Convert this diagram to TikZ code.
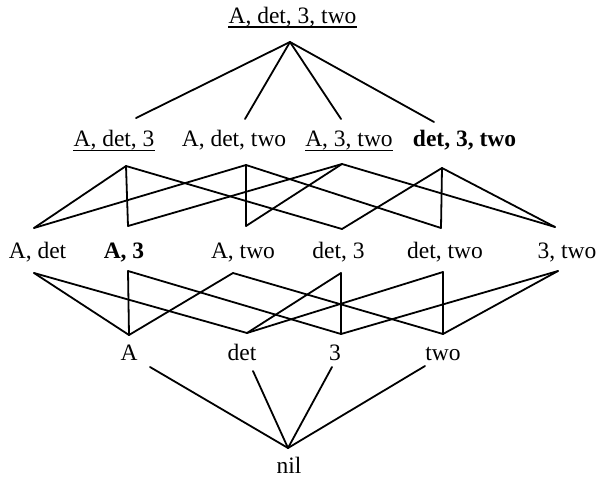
\documentclass[tikz,border=0pt]{standalone}
\usepackage{fontspec}
\setmainfont{Liberation Serif}
\begin{document}
\begin{tikzpicture}[x=1pt,y=-1pt,
  lbl/.style={anchor=base, inner sep=0pt, font=\fontsize{23.5}{28}\selectfont},
  edge/.style={line width=1.8pt, line cap=round, line join=round},
  ul/.style={line width=1.7pt}]
\useasboundingbox (0,0) rectangle (599,479);
% level 1
\node[lbl] (top) at (292.5,23) {A, det, 3, two};
\draw[ul] ([yshift=-4pt]top.base west) -- ([yshift=-4pt]top.base east);
\coordinate (top-b) at (290,42);
% level 2
\node[lbl] (adt3) at (114,146) {A, det, 3};
\node[lbl] (adtw) at (234,146) {A, det, two};
\node[lbl] (a3tw) at (349,146) {A, 3, two};
\node[lbl] (d3tw) at (464.5,146) {\textbf{det, 3, two}};
\draw[ul] ([yshift=-4.5pt]adt3.base west) -- ([yshift=-4.5pt]adt3.base east);
\draw[ul] ([yshift=-4.5pt]a3tw.base west) -- ([yshift=-4.5pt]a3tw.base east);
\coordinate (adt3-t) at (136,118);
\coordinate (adtw-t) at (245,119);
\coordinate (a3tw-t) at (341,119);
\coordinate (d3tw-t) at (434,122);
\coordinate (adt3-b) at (126,166);
\coordinate (adtw-b) at (246,165);
\coordinate (a3tw-b) at (342,164);
\coordinate (d3tw-b) at (442,168);
% level 3
\node[lbl] (ad) at (37.5,258) {A, det};
\node[lbl] (a3) at (124,258) {\textbf{A, 3}};
\node[lbl] (aw) at (243,258) {A, two};
\node[lbl] (d3) at (338.5,258) {det, 3};
\node[lbl] (dw) at (445,258) {det, two};
\node[lbl] (w3) at (567,258) {3, two};
\coordinate (ad-t) at (34,228);
\coordinate (a3-t) at (128,226);
\coordinate (aw-t) at (246,226);
\coordinate (d3-t) at (342,229);
\coordinate (dw-t) at (441,228);
\coordinate (w3-t) at (555,227);
\coordinate (ad-b) at (34,273);
\coordinate (a3-b) at (128,271);
\coordinate (aw-b) at (233,273);
\coordinate (d3-b) at (341,273);
\coordinate (dw-b) at (443,272);
\coordinate (w3-b) at (558,271);
% level 4
\node[lbl] (a) at (129,360) {A};
\node[lbl] (d) at (242,360) {det};
\node[lbl] (th) at (335,360) {3};
\node[lbl] (w) at (443,360) {two};
\coordinate (a-t) at (129,335);
\coordinate (d-t) at (247,333);
\coordinate (th-t) at (341,334);
\coordinate (w-t) at (443,334);
\coordinate (a-b) at (150,367);
\coordinate (d-b) at (253,371);
\coordinate (th-b) at (332,367);
\coordinate (w-b) at (425,366);
% level 5
\node[lbl] (nil) at (289,473) {nil};
\coordinate (nil-t) at (288,448);
% edges
\draw[edge] (top-b) -- (adt3-t);
\draw[edge] (top-b) -- (adtw-t);
\draw[edge] (top-b) -- (a3tw-t);
\draw[edge] (top-b) -- (d3tw-t);
\draw[edge] (adt3-b) -- (ad-t);
\draw[edge] (adt3-b) -- (a3-t);
\draw[edge] (adt3-b) -- (d3-t);
\draw[edge] (adtw-b) -- (ad-t);
\draw[edge] (adtw-b) -- (aw-t);
\draw[edge] (adtw-b) -- (dw-t);
\draw[edge] (a3tw-b) -- (a3-t);
\draw[edge] (a3tw-b) -- (aw-t);
\draw[edge] (a3tw-b) -- (w3-t);
\draw[edge] (d3tw-b) -- (d3-t);
\draw[edge] (d3tw-b) -- (dw-t);
\draw[edge] (d3tw-b) -- (w3-t);
\draw[edge] (ad-b) -- (a-t);
\draw[edge] (ad-b) -- (d-t);
\draw[edge] (a3-b) -- (a-t);
\draw[edge] (a3-b) -- (th-t);
\draw[edge] (aw-b) -- (a-t);
\draw[edge] (aw-b) -- (w-t);
\draw[edge] (d3-b) -- (d-t);
\draw[edge] (d3-b) -- (th-t);
\draw[edge] (dw-b) -- (d-t);
\draw[edge] (dw-b) -- (w-t);
\draw[edge] (w3-b) -- (th-t);
\draw[edge] (w3-b) -- (w-t);
\draw[edge] (a-b) -- (nil-t);
\draw[edge] (d-b) -- (nil-t);
\draw[edge] (th-b) -- (nil-t);
\draw[edge] (w-b) -- (nil-t);
\end{tikzpicture}
\end{document}
